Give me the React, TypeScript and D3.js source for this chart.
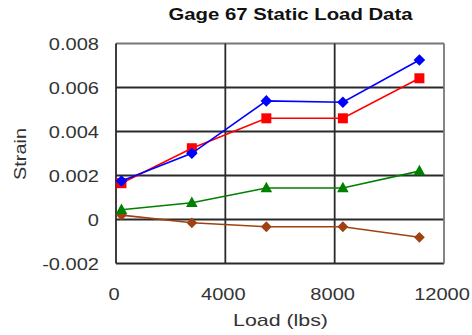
import React from "react";
import * as d3 from "d3";

const loads = [200, 2775, 5500, 8300, 11100];
const seriesBlue = [0.00175, 0.00301, 0.00539, 0.00533, 0.00725];
const seriesRed = [0.00165, 0.00324, 0.0046, 0.0046, 0.00642];
const seriesGreen = [0.00044, 0.00076, 0.00143, 0.00143, 0.0022];
const seriesBrown = [0.0002, -0.00015, -0.00033, -0.00033, -0.00081];
const xTicks = [0, 4000, 8000, 12000];
const yTicks = [-0.002, 0, 0.002, 0.004, 0.006, 0.008];
const yTickLabels = ["-0.002", "0", "0.002", "0.004", "0.006", "0.008"];
const title = "Gage 67 Static Load Data";
const xTitle = "Load (lbs)";
const yTitle = "Strain";

const W = 472;
const H = 335;
const font = "'Liberation Sans', Arial, sans-serif";

export default function App() {
  const x = d3.scaleLinear().domain([0, 12000]).range([116, 444]);
  const y = d3.scaleLinear().domain([-0.002, 0.008]).range([263.5, 43.5]);

  const line = d3
    .line<[number, number]>()
    .x((d) => x(d[0]))
    .y((d) => y(d[1]));

  const series = [
    { vals: seriesBrown, color: "#a0420f", marker: "diamondS" },
    { vals: seriesGreen, color: "#008000", marker: "triangle" },
    { vals: seriesRed, color: "#ff0000", marker: "square" },
    { vals: seriesBlue, color: "#0000ff", marker: "diamond" },
  ];

  const markerPath = (m: string, cx: number, cy: number) => {
    if (m === "diamond") {
      const r = 5.8;
      return `M${cx},${cy - r}L${cx + r},${cy}L${cx},${cy + r}L${cx - r},${cy}Z`;
    }
    if (m === "diamondS") {
      const r = 5.4;
      return `M${cx},${cy - r}L${cx + r},${cy}L${cx},${cy + r}L${cx - r},${cy}Z`;
    }
    if (m === "square") {
      const s = 5;
      return `M${cx - s},${cy - s}H${cx + s}V${cy + s}H${cx - s}Z`;
    }
    const w = 5.8;
    const h = 10.5;
    return `M${cx},${cy - h * 0.6}L${cx + w},${cy + h * 0.4}L${cx - w},${cy + h * 0.4}Z`;
  };

  const [x0, x1] = x.range();
  const [y0, y1] = [y(-0.002), y(0.008)];

  return (
    <svg
      width={W}
      height={H}
      style={{ position: "absolute", left: 0, top: 0, background: "#fff" }}
    >
      <rect x={0} y={0} width={W} height={H} fill="#fff" />
      <text
        x={290.5}
        y={20}
        textAnchor="middle"
        fontFamily={font}
        fontWeight="bold"
        fontSize={16}
        textLength={244}
        lengthAdjust="spacingAndGlyphs"
        fill="#111"
      >
        {title}
      </text>
      {yTicks.map((t) => (
        <line
          key={"gy" + t}
          x1={x0}
          x2={x1}
          y1={y(t)}
          y2={y(t)}
          stroke={t === 0.008 ? "#777" : "#2a2a2a"}
          strokeWidth={1.8}
        />
      ))}
      {xTicks.map((t) => (
        <line
          key={"gx" + t}
          x1={x(t)}
          x2={x(t)}
          y1={y1}
          y2={y0}
          stroke={t === 12000 ? "#777" : "#2a2a2a"}
          strokeWidth={1.8}
        />
      ))}
      {series.map((s, i) => {
        const pts = loads.map((l, j) => [l, s.vals[j]] as [number, number]);
        return (
          <g key={i}>
            <path d={line(pts) || ""} fill="none" stroke={s.color} strokeWidth={1.6} />
            {pts.map((p, j) => (
              <path key={j} d={markerPath(s.marker, x(p[0]), y(p[1]))} fill={s.color} />
            ))}
          </g>
        );
      })}
      {yTicks.map((t, i) => (
        <text
          key={"yl" + t}
          transform={`translate(99,${y(t) + 6}) scale(1.18,1)`}
          textAnchor="end"
          fontFamily={font}
          fontSize={17}
          fill="#333"
        >
          {yTickLabels[i]}
        </text>
      ))}
      {xTicks.map((t) => (
        <text
          key={"xl" + t}
          transform={`translate(${x(t) - 2},${300}) scale(1.18,1)`}
          textAnchor="middle"
          fontFamily={font}
          fontSize={17}
          fill="#333"
        >
          {d3.format("d")(t)}
        </text>
      ))}
      <text
        x={280.5}
        y={326}
        textAnchor="middle"
        fontFamily={font}
        fontSize={17}
        textLength={95}
        lengthAdjust="spacingAndGlyphs"
        fill="#333"
      >
        {xTitle}
      </text>
      <text
        transform="translate(26,154) rotate(-90)"
        textAnchor="middle"
        fontFamily={font}
        fontSize={17}
        textLength={52}
        lengthAdjust="spacingAndGlyphs"
        fill="#333"
      >
        {yTitle}
      </text>
    </svg>
  );
}
